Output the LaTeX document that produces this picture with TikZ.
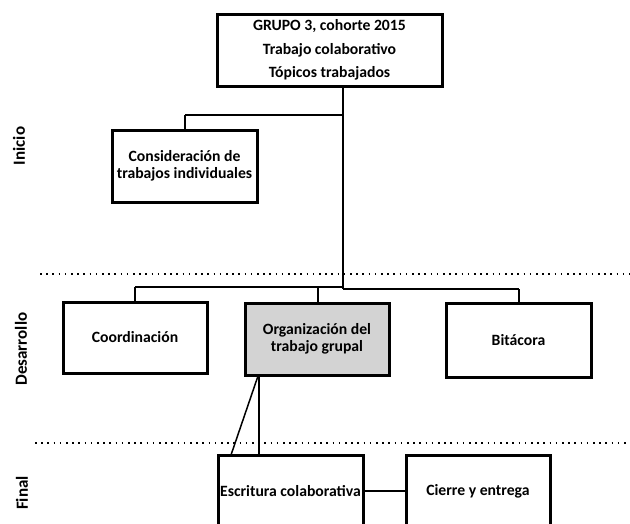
\documentclass[tikz,border=0pt]{standalone}
\usepackage{fontspec}
\setmainfont{Carlito}
\usetikzlibrary{shadows}
\definecolor{boxgray}{RGB}{211,211,211}
\begin{document}
\begin{tikzpicture}[x=1pt,y=-1pt,
  box/.style={draw=black, line width=3pt, fill=white, minimum width=#1, align=center,
    font=\bfseries\fontsize{15.7}{17}\selectfont, inner sep=0pt,
    drop shadow={shadow xshift=1.2pt, shadow yshift=-1.2pt, opacity=0.35, fill=gray}},
  box/.default=145pt,
  link/.style={line width=1.5pt},
  trunk/.style={line width=2pt},
  sep/.style={line width=1.6pt, dash pattern=on 1.6pt off 4.6pt},
  phase/.style={font=\bfseries\fontsize{17}{17}\selectfont, rotate=90}
]
\useasboundingbox (0,0) rectangle (630,523);
\clip (0,0) rectangle (630,523);

% phase separators
\coordinate (s1a) at (40,274);
\coordinate (s1b) at (630,274);
\coordinate (s2a) at (35,443);
\coordinate (s2b) at (630,443);
\draw[sep] (s1a) -- (s1b);
\draw[sep] (s2a) -- (s2b);

% phase labels
\node[phase] (inicio) at (19,146) {Inicio};
\node[phase] (desarrollo) at (21,349) {Desarrollo};
\node[phase] (final) at (22,493) {Final};

% junction coordinates
\coordinate (jt) at (343,289);
\coordinate (jc) at (185,115);
\coordinate (jl) at (135,287);
\coordinate (jo) at (318,287);
\coordinate (jr) at (519,289);
\coordinate (jm) at (343,287);

% connectors (drawn under boxes)
\draw[trunk] (343,86) -- (jt);
\draw[link] (jm |- jc) -- (jc);
\draw[link] (jm) -- (jl);
\draw[trunk] (jt) -- (jr);
\draw[link] (259,376) -- (259,455);
\draw[link] (258,376) -- (231,455);

% boxes
\node[box=225pt, minimum height=72pt, font=\bfseries\fontsize{15.7}{23.5}\selectfont] (top) at (329.5,50)
  {GRUPO 3, cohorte 2015\\Trabajo colaborativo\\Tópicos trabajados};
\node[box, minimum height=72pt] (cons) at (184.5,166) {Consideración de\\trabajos individuales};
\node[box=144pt, minimum height=71pt] (coord) at (135,337.5) {Coordinación};
\node[box=144pt, minimum height=72pt, fill=boxgray] (org) at (317,339) {Organización del\\trabajo grupal};
\node[box, minimum height=74pt] (bit) at (518.5,340) {Bitácora};
\node[box, minimum height=72pt] (esc) at (290.5,491) {Escritura colaborativa};
\node[box=144pt, minimum height=72pt] (cie) at (478,491) {Cierre y entrega};

% connectors to box tops
\draw[link] (jc) -- (cons.north -| jc);
\draw[link] (jl) -- (coord.north -| jl);
\draw[link] (jo) -- (org.north -| jo);
\draw[link] (jr) -- (bit.north -| jr);
\draw[link] (esc.east) -- (cie.west);
\end{tikzpicture}
\end{document}
